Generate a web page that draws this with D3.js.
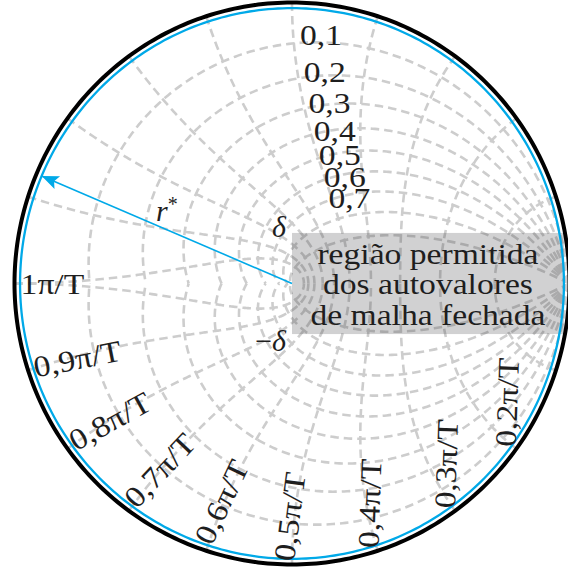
<!DOCTYPE html>
<html>
<head>
<meta charset="utf-8">
<script src="https://cdn.jsdelivr.net/npm/d3@7"></script>
<style>
  body { margin: 0; background: #fff; }
  svg { display: block; }
  text { font-family: "Liberation Serif", "DejaVu Serif", serif; fill: #1e1e1e; }
</style>
</head>
<body>
<svg id="chart" width="568" height="571"></svg>
<script>
// z-plane grid: constant damping ratio spirals and constant natural frequency curves
const dampingRatios = [0.1, 0.2, 0.3, 0.4, 0.5, 0.6, 0.7, 0.8, 0.9];
const dampingLabelValues = [0.1, 0.2, 0.3, 0.4, 0.5, 0.6, 0.7];
const dampingLabels = ["0,1", "0,2", "0,3", "0,4", "0,5", "0,6", "0,7"];

// natural frequencies as multiples of π/T
const naturalFreqs = [0.1, 0.2, 0.3, 0.4, 0.5, 0.6, 0.7, 0.8, 0.9, 1.0];
const freqLabelValues = [0.2, 0.3, 0.4, 0.5, 0.6, 0.7, 0.8, 0.9, 1.0];
const freqLabels = ["0,2π/T", "0,3π/T", "0,4π/T", "0,5π/T", "0,6π/T", "0,7π/T", "0,8π/T", "0,9π/T", "1π/T"];

// allowed region for the closed-loop eigenvalues
const rStar = 0.98;      // radius of the admissible disc
const delta = 0.18;      // half-height of the admissible band
const rStarAngleDeg = 157;
const regionText = ["região permitida", "dos autovalores", "de malha fechada"];

const svg = d3.select("#chart");
const cx = 292, cy = 283.5, Rx = 277.5, Ry = 281;
const x = d3.scaleLinear().domain([-1, 1]).range([cx - Rx, cx + Rx]);
const y = d3.scaleLinear().domain([-1, 1]).range([cy + Ry, cy - Ry]);
const line = d3.line().x(d => x(d[0])).y(d => y(d[1]));

const fs = 30;
const widen = 1.12;   // serif glyphs drawn slightly wider
function stretch(sel) {
  sel.each(function () {
    const len = this.getComputedTextLength();
    d3.select(this).attr("textLength", len * widen).attr("lengthAdjust", "spacingAndGlyphs");
  });
  return sel;
}

const N = 240;
const gridG = svg.append("g")
  .attr("fill", "none")
  .attr("stroke", "#cdcdcd")
  .attr("stroke-width", 2.6)
  .attr("stroke-dasharray", "8.5,5");

// damping ratio spirals z = exp(θ(-m + j)), m = ζ/√(1-ζ²)
dampingRatios.forEach(z => {
  const m = z / Math.sqrt(1 - z * z);
  [1, -1].forEach(sgn => {
    const pts = d3.range(N + 1).map(i => {
      const th = Math.PI * i / N;
      const r = Math.exp(-m * th);
      return [r * Math.cos(th), sgn * r * Math.sin(th)];
    });
    gridG.append("path").attr("d", line(pts));
  });
});

// natural frequency curves z = exp(-ζw) e^{± j w √(1-ζ²)}
naturalFreqs.forEach(f => {
  const w = f * Math.PI;
  [1, -1].forEach(sgn => {
    const pts = d3.range(N + 1).map(i => {
      const z = i / N;
      const r = Math.exp(-z * w);
      const a = w * Math.sqrt(1 - z * z);
      return [r * Math.cos(a), sgn * r * Math.sin(a)];
    });
    gridG.append("path").attr("d", line(pts));
  });
});

// shaded band: real part from 0 to r*, imaginary part within ±δ
svg.append("rect")
  .attr("x", x(0))
  .attr("y", y(delta))
  .attr("width", x(rStar) - x(0))
  .attr("height", y(-delta) - y(delta))
  .attr("fill", "#3a3a3e")
  .attr("fill-opacity", 0.23);

// circles
const circlePts = rad => d3.range(361).map(i => {
  const a = i * Math.PI / 180;
  return [rad * Math.cos(a), rad * Math.sin(a)];
});
svg.append("path").attr("d", line(circlePts(rStar)))
  .attr("fill", "none").attr("stroke", "#00a9e8").attr("stroke-width", 2.3);
svg.append("path").attr("d", line(circlePts(1)))
  .attr("fill", "none").attr("stroke", "#000").attr("stroke-width", 4);

// r* arrow
svg.append("defs").append("marker")
  .attr("id", "head")
  .attr("viewBox", "-18 -8 20 16")
  .attr("refX", 0).attr("refY", 0)
  .attr("markerWidth", 20).attr("markerHeight", 16)
  .attr("markerUnits", "userSpaceOnUse")
  .attr("orient", "auto")
  .append("path")
  .attr("d", "M0,0 L-17,-7 L-13.5,0 L-17,7 Z")
  .attr("fill", "#00a9e8");
const aRad = rStarAngleDeg * Math.PI / 180;
const tip = [rStar * Math.cos(aRad), rStar * Math.sin(aRad)];
svg.append("line")
  .attr("x1", x(0)).attr("y1", y(0))
  .attr("x2", x(tip[0])).attr("y2", y(tip[1]))
  .attr("stroke", "#00a9e8").attr("stroke-width", 1.6)
  .attr("marker-end", "url(#head)");

const mid = [0.5 * tip[0], 0.5 * tip[1]];
const rLabel = svg.append("text")
  .attr("x", x(mid[0])).attr("y", y(mid[1]) - 9)
  .attr("text-anchor", "middle")
  .attr("font-size", fs);
rLabel.append("tspan").attr("font-style", "italic").text("r");
rLabel.append("tspan").attr("font-size", 20).attr("dy", -10).text("*");

// δ marks at the band corners
svg.append("text")
  .attr("x", x(0) - 6).attr("y", y(delta) - 6)
  .attr("text-anchor", "end").attr("dominant-baseline", "central")
  .attr("font-size", fs).attr("font-style", "italic").text("δ");
const md = svg.append("text")
  .attr("x", x(0) - 6).attr("y", y(-delta) + 6)
  .attr("text-anchor", "end").attr("dominant-baseline", "central")
  .attr("font-size", fs);
md.append("tspan").text("−");
md.append("tspan").attr("font-style", "italic").text("δ");

// region caption
const boxMidX = (x(0) + x(rStar)) / 2;
regionText.forEach((t, i) => {
  stretch(svg.append("text")
    .attr("x", boxMidX)
    .attr("y", y(0) + (i - 1) * 30.5)
    .attr("text-anchor", "middle").attr("dominant-baseline", "central")
    .attr("font-size", fs)
    .text(t));
});

// damping ratio labels, centred on each spiral
dampingLabelValues.forEach((z, i) => {
  const w = (0.47 - 0.05 * z) * Math.PI;
  const m = z / Math.sqrt(1 - z * z);
  const a = w * Math.sqrt(1 - z * z);
  const r = Math.exp(-m * a) * (1.045 - 0.12 * z);
  stretch(svg.append("text")
    .attr("x", x(r * Math.cos(a)))
    .attr("y", y(r * Math.sin(a)))
    .attr("text-anchor", "middle").attr("dominant-baseline", "central")
    .attr("font-size", fs)
    .text(dampingLabels[i]));
});

// natural frequency labels along the lower unit circle, sloped with each curve
freqLabelValues.forEach((f, i) => {
  const w = f * Math.PI;
  const zs = 0.15;
  const dataAng = (-w * Math.sqrt(1 - zs * zs) + Math.PI - Math.asin(zs)) * 180 / Math.PI;
  const rot = Math.max(-88, Math.min(0, -dataAng));
  const r0 = rot < -75 ? 0.99 : 0.978;
  // nudge steep labels towards their top side so they stay inside the disc
  const shift = 9 * (-rot / 88);
  const rr = (rot - 90) * Math.PI / 180;
  const px = x(r0 * Math.cos(-w)) + shift * Math.cos(rr);
  const py = y(r0 * Math.sin(-w)) + shift * Math.sin(rr);
  stretch(svg.append("text")
    .attr("transform", `translate(${px},${py}) rotate(${rot})`)
    .attr("text-anchor", "start").attr("dominant-baseline", "central")
    .attr("font-size", fs)
    .text(freqLabels[i]));
});
</script>
</body>
</html>
